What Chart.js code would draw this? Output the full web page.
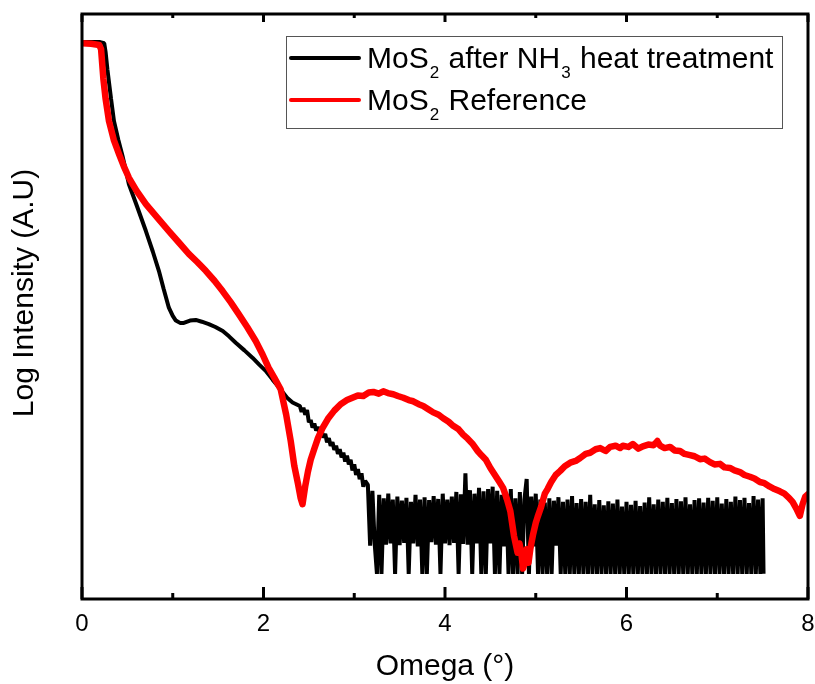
<!DOCTYPE html>
<html lang="en">
<head>
<meta charset="UTF-8">
<title>MoS2 reflectivity</title>
<script src="https://cdn.jsdelivr.net/npm/chart.js"></script>
<style>
  * { margin: 0; padding: 0; box-sizing: border-box; }
  body { background: #fff; width: 815px; height: 684px; overflow: hidden; }
</style>
</head>
<body>
<canvas id="xrrChart" width="815" height="684"></canvas>
<script>
// series names (subscript digits drawn smaller by the legend plugin)
const seriesNames = ['MoS₂ after NH₃ heat treatment', 'MoS₂ Reference'];
const xTitle = 'Omega (°)';
const yTitle = 'Log Intensity (A.U)';

// x axis ticks (degrees)
const majorTicks = [0, 2, 4, 6, 8];
const minorTicks = [1, 3, 5, 7];

// MoS2 after NH3 heat treatment
const treatedOmega = [
  0.00, 0.10, 0.20, 0.245, 0.26, 0.28, 0.30, 0.32, 0.352, 0.40, 0.45, 0.484, 0.517, 0.60, 0.704, 0.78,
  0.847, 0.90, 0.957, 1.00, 1.034, 1.08, 1.122, 1.19, 1.254, 1.32, 1.397, 1.47, 1.551, 1.62, 1.694, 1.79,
  1.881, 1.95, 2.024, 2.10, 2.18, 2.26, 2.32,
  2.40, 2.42, 2.44, 2.46, 2.48, 2.50, 2.52, 2.54, 2.56, 2.58, 2.60, 2.62, 2.64, 2.66, 2.68, 2.70,
  2.72, 2.74, 2.76, 2.78, 2.80, 2.82, 2.84, 2.86, 2.88, 2.90, 2.92, 2.94, 2.96, 2.98, 3.00, 3.02,
  3.04, 3.06, 3.08, 3.10, 3.12,
  3.150, 3.175, 3.200, 3.225, 3.250, 3.275, 3.300, 3.325, 3.350, 3.375, 3.400, 3.425, 3.450, 3.475, 3.500, 3.525,
  3.550, 3.575, 3.600, 3.625, 3.650, 3.675, 3.700, 3.725, 3.750, 3.775, 3.800, 3.825, 3.850, 3.875, 3.900, 3.925,
  3.950, 3.975, 4.000, 4.025, 4.050, 4.075, 4.100, 4.125, 4.150, 4.175, 4.200, 4.225, 4.250, 4.275, 4.300, 4.325,
  4.350, 4.375, 4.400, 4.425, 4.450, 4.475, 4.500, 4.525, 4.550, 4.575, 4.600, 4.625, 4.650, 4.675, 4.700, 4.725,
  4.750, 4.775, 4.800, 4.825, 4.850, 4.875, 4.900, 4.925, 4.950, 4.975, 5.000, 5.025, 5.050, 5.075, 5.100, 5.125,
  5.150, 5.175, 5.200, 5.225, 5.250, 5.275, 5.300, 5.325, 5.350, 5.375, 5.400, 5.425, 5.450, 5.475, 5.500, 5.525,
  5.550, 5.575, 5.600, 5.625, 5.650, 5.675, 5.700, 5.725, 5.750, 5.775, 5.800, 5.825, 5.850, 5.875, 5.900, 5.925,
  5.950, 5.975, 6.000, 6.025, 6.050, 6.075, 6.100, 6.125, 6.150, 6.175, 6.200, 6.225, 6.250, 6.275, 6.300, 6.325,
  6.350, 6.375, 6.400, 6.425, 6.450, 6.475, 6.500, 6.525, 6.550, 6.575, 6.600, 6.625, 6.650, 6.675, 6.700, 6.725,
  6.750, 6.775, 6.800, 6.825, 6.850, 6.875, 6.900, 6.925, 6.950, 6.975, 7.000, 7.025, 7.050, 7.075, 7.100, 7.125,
  7.150, 7.175, 7.200, 7.225, 7.250, 7.275, 7.300, 7.325, 7.350, 7.375, 7.400, 7.425, 7.450, 7.475, 7.500, 7.510
];
const treatedLogI = [
  9.52, 9.52, 9.52, 9.50, 9.35, 9.05, 8.80, 8.55, 8.17, 7.85, 7.55, 7.32, 7.09, 6.74, 6.29, 5.94,
  5.61, 5.30, 4.98, 4.84, 4.76, 4.72, 4.72, 4.76, 4.77, 4.74, 4.70, 4.65, 4.58, 4.49, 4.38, 4.25,
  4.12, 4.01, 3.90, 3.75, 3.60, 3.44, 3.36,
  3.30, 3.20, 3.27, 3.15, 3.23, 3.02, 3.06, 2.93, 3.00, 2.88, 2.94, 2.82, 2.88, 2.76, 2.82, 2.68,
  2.75, 2.62, 2.68, 2.55, 2.62, 2.48, 2.56, 2.42, 2.50, 2.35, 2.45, 2.30, 2.38, 2.20, 2.30, 2.12,
  2.22, 2.05, 2.15, 1.92, 2.02,
  1.95, 0.91, 1.85, 0.95, 0.43, 1.78, 0.43, 1.72, 0.93, 1.80, 0.95, 1.70, 0.43, 1.75, 0.92, 1.68,
  0.96, 1.73, 0.43, 1.66, 0.95, 1.78, 0.90, 1.70, 0.43, 1.74, 0.43, 1.69, 0.97, 1.76, 0.93, 1.71,
  0.43, 1.80, 0.95, 1.70, 0.92, 1.75, 0.96, 1.83, 0.43, 1.79, 0.94, 2.15, 0.93, 1.86, 0.43, 1.80,
  0.95, 1.90, 0.43, 1.84, 0.43, 1.88, 0.95, 1.92, 0.43, 1.85, 0.43, 1.78, 0.90, 1.80, 0.43, 1.88,
  0.43, 1.72, 0.43, 1.83, 0.43, 1.70, 2.05, 0.43, 1.75, 0.90, 1.80, 0.43, 1.70, 0.43, 1.65, 0.43,
  1.72, 0.43, 1.68, 0.91, 1.74, 0.43, 1.66, 0.43, 1.70, 0.43, 1.76, 0.43, 1.64, 0.43, 1.71, 0.43,
  1.66, 0.43, 1.78, 0.43, 1.62, 0.43, 1.69, 0.43, 1.60, 0.43, 1.67, 0.43, 1.63, 0.43, 1.70, 0.43,
  1.58, 0.43, 1.66, 0.43, 1.61, 0.43, 1.68, 0.43, 1.59, 0.43, 1.65, 0.43, 1.74, 0.43, 1.62, 0.43,
  1.70, 0.43, 1.66, 0.43, 1.73, 0.43, 1.64, 0.43, 1.71, 0.43, 1.67, 0.43, 1.74, 0.43, 1.62, 0.43,
  1.69, 0.43, 1.72, 0.43, 1.65, 0.43, 1.73, 0.43, 1.68, 0.43, 1.74, 0.43, 1.63, 0.43, 1.71, 0.43,
  1.66, 0.43, 1.75, 0.43, 1.69, 0.43, 1.73, 0.43, 1.64, 0.43, 1.76, 0.43, 1.70, 0.43, 1.72, 0.43
];

// MoS2 reference
const refOmega = [
  0.00, 0.10, 0.19, 0.21, 0.235, 0.26, 0.297, 0.35, 0.407, 0.46, 0.517, 0.60, 0.704, 0.83, 0.957, 1.07,
  1.177, 1.27, 1.364, 1.46, 1.551, 1.64, 1.727, 1.82, 1.914, 1.99, 2.057, 2.12, 2.19, 2.25, 2.30, 2.34,
  2.38, 2.41, 2.43, 2.46, 2.49, 2.52, 2.56, 2.60, 2.65, 2.71, 2.78, 2.85, 2.92, 2.98, 3.04, 3.10,
  3.16, 3.21, 3.27, 3.32, 3.37, 3.43, 3.48, 3.54, 3.60, 3.65, 3.71, 3.76, 3.82, 3.87, 3.93, 3.98,
  4.04, 4.09, 4.15, 4.20, 4.25, 4.30, 4.36, 4.40, 4.45, 4.50, 4.55, 4.60, 4.64, 4.68, 4.72, 4.76,
  4.80, 4.82, 4.84, 4.86, 4.88, 4.90, 4.92, 4.94, 4.97, 5.00, 5.02, 5.06, 5.10, 5.13, 5.17, 5.22,
  5.27, 5.32, 5.38, 5.44, 5.49, 5.55, 5.60, 5.66, 5.71, 5.77, 5.82, 5.88, 5.93, 5.96, 6.02, 6.07,
  6.13, 6.18, 6.24, 6.30, 6.34, 6.37, 6.42, 6.48, 6.53, 6.59, 6.64, 6.70, 6.75, 6.81, 6.86, 6.92,
  6.97, 7.03, 7.08, 7.14, 7.19, 7.25, 7.30, 7.36, 7.41, 7.47, 7.52, 7.58, 7.63, 7.69, 7.74, 7.79,
  7.83, 7.87, 7.91, 7.94, 7.97, 8.00
];
const refLogI = [
  9.50, 9.49, 9.47, 9.40, 8.90, 8.55, 8.17, 7.85, 7.61, 7.40, 7.20, 6.98, 6.75, 6.52, 6.29, 6.09,
  5.90, 5.76, 5.61, 5.44, 5.26, 5.07, 4.87, 4.65, 4.41, 4.18, 3.95, 3.78, 3.58, 3.15, 2.70, 2.27,
  1.97, 1.72, 1.62, 1.93, 2.18, 2.38, 2.57, 2.75, 2.92, 3.08, 3.22, 3.33, 3.40, 3.44, 3.48, 3.47,
  3.53, 3.54, 3.51, 3.55, 3.52, 3.50, 3.47, 3.44, 3.40, 3.38, 3.33, 3.30, 3.24, 3.19, 3.15, 3.09,
  3.03, 2.96, 2.90, 2.81, 2.74, 2.66, 2.53, 2.46, 2.38, 2.24, 2.12, 2.00, 1.90, 1.72, 1.50, 1.08,
  0.79, 0.95, 0.80, 0.52, 0.62, 0.85, 0.62, 0.85, 1.10, 1.30, 1.40, 1.58, 1.80, 1.88, 2.00, 2.12,
  2.19, 2.27, 2.33, 2.36, 2.41, 2.48, 2.50, 2.56, 2.58, 2.53, 2.60, 2.62, 2.58, 2.62, 2.60, 2.65,
  2.57, 2.61, 2.64, 2.63, 2.70, 2.62, 2.58, 2.60, 2.54, 2.53, 2.48, 2.46, 2.44, 2.39, 2.40, 2.34,
  2.30, 2.31, 2.25, 2.24, 2.20, 2.17, 2.12, 2.09, 2.06, 2.00, 1.98, 1.92, 1.88, 1.84, 1.80, 1.73,
  1.66, 1.55, 1.42, 1.62, 1.75, 1.79
];

const FONT = '"Liberation Sans", Arial, sans-serif';

// boxed frame with inward ticks on bottom and top, plus the rotated y title
const frameTicks = {
  id: 'frameTicks',
  afterDatasetsDraw(chart) {
    const { ctx, chartArea: a } = chart;
    const x = chart.scales.x;
    ctx.save();
    ctx.strokeStyle = '#000';
    ctx.lineWidth = 3;
    ctx.lineJoin = 'miter';
    ctx.strokeRect(a.left, a.top, a.right - a.left, a.bottom - a.top);
    majorTicks.concat(minorTicks).forEach(v => {
      const px = x.getPixelForValue(v);
      const major = majorTicks.includes(v);
      ctx.beginPath();
      ctx.moveTo(px, a.bottom);
      ctx.lineTo(px, a.bottom - (major ? 12 : 6));
      ctx.moveTo(px, a.top);
      ctx.lineTo(px, a.top + (major ? 8 : 4));
      ctx.stroke();
    });

    ctx.translate(25, 293);
    ctx.rotate(-Math.PI / 2);
    ctx.font = '30px ' + FONT;
    ctx.fillStyle = '#000';
    ctx.textAlign = 'center';
    ctx.textBaseline = 'middle';
    ctx.fillText(yTitle, 0, 0);
    ctx.restore();
  }
};

// legend box with subscript digits
const subLegend = {
  id: 'subLegend',
  afterDraw(chart) {
    const ctx = chart.ctx;
    const box = { left: 286, top: 36, right: 782, bottom: 128 };
    const rows = [58, 100];
    ctx.save();
    ctx.fillStyle = '#fff';
    ctx.fillRect(box.left, box.top, box.right - box.left, box.bottom - box.top);
    ctx.strokeStyle = '#555';
    ctx.lineWidth = 1;
    ctx.strokeRect(box.left + 0.5, box.top + 0.5, box.right - box.left, box.bottom - box.top);
    chart.data.datasets.forEach((ds, i) => {
      const y = rows[i];
      ctx.strokeStyle = ds.borderColor;
      ctx.lineWidth = 4;
      ctx.lineCap = 'round';
      ctx.beginPath();
      ctx.moveTo(291, y);
      ctx.lineTo(359, y);
      ctx.stroke();
      let tx = 367;
      const base = y + 10;
      ctx.fillStyle = '#000';
      ctx.textBaseline = 'alphabetic';
      for (const ch of ds.label) {
        const code = ch.charCodeAt(0);
        if (code >= 0x2080 && code <= 0x2089) {
          ctx.font = '17px ' + FONT;
          const d = String(code - 0x2080);
          ctx.fillText(d, tx + 1, base + 10);
          tx += ctx.measureText(d).width + 2;
        } else {
          ctx.font = '30px ' + FONT;
          ctx.fillText(ch, tx, base);
          tx += ctx.measureText(ch).width;
        }
      }
    });
    ctx.restore();
  }
};

const toPoints = (xs, ys) => xs.map((v, i) => ({ x: v, y: ys[i] }));

new Chart(document.getElementById('xrrChart'), {
  type: 'line',
  data: {
    datasets: [
      {
        label: seriesNames[0],
        data: toPoints(treatedOmega, treatedLogI),
        borderColor: '#000000',
        borderWidth: 4,
        borderJoinStyle: 'bevel',
        pointRadius: 0,
        order: 1
      },
      {
        label: seriesNames[1],
        data: toPoints(refOmega, refLogI),
        borderColor: '#ff0000',
        borderWidth: 6.5,
        borderJoinStyle: 'round',
        borderCapStyle: 'round',
        pointRadius: 0,
        order: 0
      }
    ]
  },
  options: {
    responsive: false,
    animation: false,
    devicePixelRatio: 1,
    layout: { padding: { top: 14, right: 7, left: 0, bottom: 0 } },
    plugins: {
      legend: { display: false },
      tooltip: { enabled: false }
    },
    scales: {
      x: {
        type: 'linear',
        min: 0,
        max: 8,
        afterBuildTicks: s => { s.ticks = majorTicks.map(v => ({ value: v })); },
        afterFit: s => { s.height = 85; s.paddingLeft = 0; s.paddingRight = 0; },
        grid: { display: false, drawTicks: false },
        border: { display: false },
        ticks: { padding: 11, maxRotation: 0, color: '#000', font: { size: 24, family: FONT } },
        title: {
          display: true,
          text: xTitle,
          color: '#000',
          font: { size: 30, family: FONT, lineHeight: 1 },
          padding: { top: 0, bottom: 2 }
        }
      },
      y: {
        min: 0,
        max: 10,
        afterFit: s => { s.width = 82; },
        grid: { display: false, drawTicks: false },
        border: { display: false },
        ticks: { display: false },
        title: { display: false }
      }
    }
  },
  plugins: [frameTicks, subLegend]
});
</script>
</body>
</html>
